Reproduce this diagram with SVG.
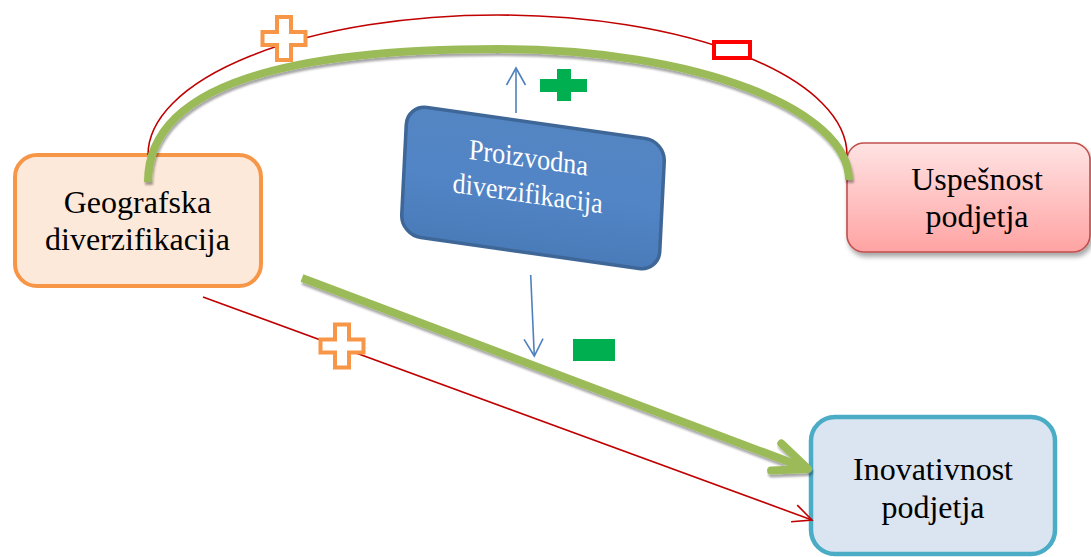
<svg xmlns="http://www.w3.org/2000/svg" width="1091" height="557" viewBox="0 0 1091 557">
<style>
.lbl{font-family:"Liberation Serif","Times New Roman",serif;font-size:32px;fill:#000;text-anchor:middle}
.wlbl{font-family:"Liberation Serif","Times New Roman",serif;font-size:29px;fill:#fff;text-anchor:middle}
.red{fill:none;stroke:#C00000;stroke-width:1.6}
.blue{fill:none;stroke:#4F81BD;stroke-width:1.6}
.green{fill:none;stroke:#9BBB59;stroke-width:8}
.oplus{fill:#fff;stroke:#F79646;stroke-width:4}
</style>
<defs>
<linearGradient id="pinkG" x1="0" y1="0" x2="0" y2="1">
<stop offset="0" stop-color="#FFE3E3"/>
<stop offset="1" stop-color="#FFA3A3"/>
</linearGradient>
<linearGradient id="blueG" x1="0" y1="0" x2="0" y2="1">
<stop offset="0" stop-color="#5485C3"/>
<stop offset="0.5" stop-color="#5285C6"/>
<stop offset="1" stop-color="#4A7BB9"/>
</linearGradient>
<filter id="shadow" x="-10%" y="-10%" width="125%" height="140%">
<feDropShadow dx="2" dy="4" stdDeviation="2.5" flood-color="#000" flood-opacity="0.35"/>
</filter>
<filter id="lineShadow" x="-5%" y="-20%" width="110%" height="140%">
<feDropShadow dx="1" dy="3" stdDeviation="1.2" flood-color="#000" flood-opacity="0.35"/>
</filter>
<marker id="arRed" markerUnits="userSpaceOnUse" markerWidth="30" markerHeight="30" orient="auto" overflow="visible">
<path d="M-19,-8.9 L0,0 L-19,8.9" fill="none" stroke="#C00000" stroke-width="1.6"/>
</marker>
<marker id="arBlue" markerUnits="userSpaceOnUse" markerWidth="30" markerHeight="30" orient="auto" overflow="visible">
<path d="M-17,-9.5 L0,0 L-17,9.5" fill="none" stroke="#4F81BD" stroke-width="1.6"/>
</marker>
<marker id="arGreen" markerUnits="userSpaceOnUse" markerWidth="60" markerHeight="60" orient="auto" overflow="visible">
<path d="M-34,-14.5 L0,0 L-34,14.5" fill="none" stroke="#9BBB59" stroke-width="8" stroke-linecap="round" stroke-linejoin="round"/>
</marker>
<path id="plusShape" d="M-7,-21.5 H7 V-6.5 H21.5 V6.5 H7 V21.5 H-7 V6.5 H-21.5 V-6.5 H-7 Z"/>
</defs>
<rect width="1091" height="557" fill="#fff"/>

<g id="node-geografska">
<rect x="15" y="155" width="246" height="131" rx="22" fill="#FDE9D9" stroke="#F79646" stroke-width="4"/>
<text class="lbl" x="137.5" y="213">Geografska</text>
<text class="lbl" x="137.5" y="250">diverzifikacija</text>
</g>

<g id="node-uspesnost">
<rect x="847" y="143" width="243" height="109" rx="17" fill="url(#pinkG)" stroke="#C0504D" stroke-width="1.6" filter="url(#shadow)"/>
<text class="lbl" x="977" y="190">Uspešnost</text>
<text class="lbl" x="977" y="227">podjetja</text>
</g>

<g id="node-inovativnost">
<rect x="811" y="417" width="244" height="137" rx="24" fill="#DBE5F1" stroke="#4BACC6" stroke-width="4.5"/>
<text class="lbl" x="933" y="480">Inovativnost</text>
<text class="lbl" x="933" y="518">podjetja</text>
</g>

<g id="node-proizvodna" transform="matrix(1,0.142,-0.05,1,533,188)">
<rect x="-129" y="-65" width="258" height="130" rx="20" fill="url(#blueG)" stroke="#3E6697" stroke-width="3.5"/>
<text class="wlbl" x="-6" y="-20" textLength="119" lengthAdjust="spacingAndGlyphs">Proizvodna</text>
<text class="wlbl" x="-5" y="15.5" textLength="150" lengthAdjust="spacingAndGlyphs">diverzifikacija</text>
</g>

<g id="connectors">
<path class="red" d="M148,155 A349.5,140 0 0 1 847,155"/>
<path class="green" filter="url(#lineShadow)" d="M148,182 C148,92 268,49 498,49 C698,49 849,110 849,180"/>
<path class="green" filter="url(#lineShadow)" d="M302,278 L808,469" marker-end="url(#arGreen)"/>
<path class="red" d="M203,297 L812,520" marker-end="url(#arRed)"/>
<path class="blue" d="M516,113 L516,68" marker-end="url(#arBlue)"/>
<path class="blue" d="M530.7,275 L534.3,356" marker-end="url(#arBlue)"/>
</g>

<g id="signs">
<use href="#plusShape" class="oplus" transform="translate(284,38.5)"/>
<use href="#plusShape" class="oplus" transform="translate(342,346)"/>
<rect x="714" y="42" width="36" height="16" fill="#fff" stroke="#FF0000" stroke-width="4"/>
<path d="M557,69 H571 V79 H587 V92 H571 V101 H557 V92 H540 V79 H557 Z" fill="#00B050"/>
<rect x="573" y="339" width="42" height="22" fill="#00B050"/>
</g>
</svg>
